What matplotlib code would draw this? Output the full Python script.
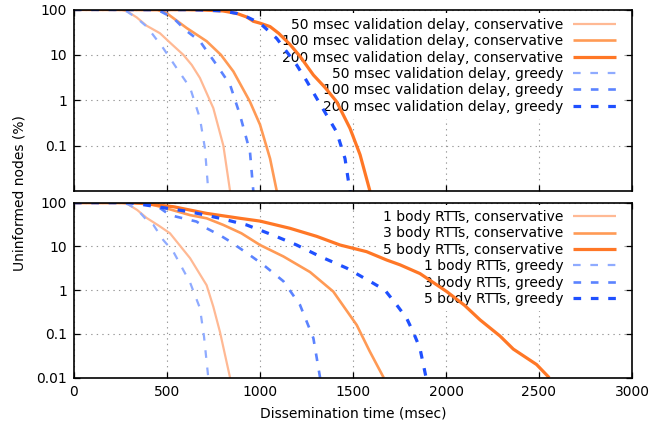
import matplotlib
matplotlib.use("Agg")
import matplotlib.pyplot as plt
from matplotlib.ticker import FixedLocator, NullLocator

plt.rcParams['font.family'] = ['DejaVu Sans']
plt.rcParams['font.size'] = 10
plt.rcParams['lines.scale_dashes'] = False

# ---------------- data: top panel (validation delay) ----------------
top_labels = ["50 msec validation delay, conservative",
              "100 msec validation delay, conservative",
              "200 msec validation delay, conservative",
              "50 msec validation delay, greedy",
              "100 msec validation delay, greedy",
              "200 msec validation delay, greedy"]

c50_t = [0, 250, 285, 337, 390, 462, 520, 588, 633, 677, 749, 803, 839]
c50_v = [100, 100, 92, 67, 44, 30, 18, 10, 6, 3.1, 0.67, 0.1, 0.01]
c100_t = [0, 450, 498, 606, 713, 790, 857, 946, 1000, 1054, 1090]
c100_v = [100, 98, 83, 39, 20, 10, 4.3, 0.93, 0.29, 0.052, 0.01]
c200_t = [0, 600, 700, 800, 875, 930, 964, 1000, 1054, 1100, 1161, 1215, 1287, 1350, 1412, 1484, 1538, 1591]
c200_v = [100, 99, 97, 93, 82, 68, 55, 50, 42, 30, 17, 9.3, 3.6, 1.9, 0.93, 0.24, 0.063, 0.01]
g50_t = [0, 250, 285, 337, 391, 480, 552, 624, 677, 704, 722]
g50_v = [100, 100, 90, 65, 42, 14, 5.1, 1.9, 0.4, 0.087, 0.01]
g100_t = [0, 450, 534, 600, 677, 767, 839, 892, 946, 964]
g100_v = [100, 98, 65, 35, 20, 6, 2.2, 0.48, 0.074, 0.01]
g200_t = [0, 600, 700, 800, 875, 928, 1000, 1090, 1197, 1250, 1305, 1412, 1457, 1475, 1485]
g200_v = [100, 99, 97, 93, 82, 69, 50, 23, 6, 2.7, 1.1, 0.2, 0.052, 0.017, 0.01]

# ---------------- data: bottom panel (body RTTs) ----------------
bot_labels = ["1 body RTTs, conservative",
              "3 body RTTs, conservative",
              "5 body RTTs, conservative",
              "1 body RTTs, greedy",
              "3 body RTTs, greedy",
              "5 body RTTs, greedy"]

b1c_t = [0, 250, 285, 340, 390, 455, 516, 624, 713, 749, 785, 839]
b1c_v = [100, 100, 95, 68, 45, 30, 20, 5.4, 1.3, 0.42, 0.11, 0.01]
b3c_t = [0, 300, 400, 498, 624, 713, 803, 900, 1000, 1126, 1269, 1394, 1520, 1590, 1665]
b3c_v = [100, 100, 95, 74, 52, 44, 31, 20, 10.8, 5.9, 2.6, 0.93, 0.16, 0.04, 0.01]
b5c_t = [0, 300, 355, 534, 713, 892, 1000, 1161, 1305, 1430, 1573, 1681, 1753, 1860, 2004, 2100, 2183, 2290, 2362, 2487, 2555]
b5c_v = [100, 100, 97, 81, 57, 44, 38, 26, 17, 10.8, 7.6, 4.9, 3.8, 2.4, 0.93, 0.45, 0.21, 0.09, 0.045, 0.02, 0.01]
b1g_t = [0, 250, 290, 340, 391, 427, 480, 534, 624, 677, 699, 722]
b1g_v = [100, 100, 92, 70, 40, 31, 14, 7.6, 1.5, 0.39, 0.087, 0.01]
b3g_t = [0, 300, 440, 516, 659, 713, 785, 839, 946, 1018, 1126, 1215, 1287, 1323]
b3g_v = [100, 100, 88, 52, 37, 26, 18, 13, 6.3, 3.8, 1.6, 0.46, 0.08, 0.01]
b5g_t = [0, 300, 445, 624, 785, 928, 1072, 1197, 1323, 1466, 1609, 1672, 1735, 1788, 1824, 1860, 1893]
b5g_v = [100, 100, 81, 62, 44, 31, 18, 10.8, 5.9, 3.2, 1.44, 1.0, 0.46, 0.23, 0.11, 0.047, 0.01]

x_ticks = [0, 500, 1000, 1500, 2000, 2500, 3000]
y_ticks_top = [0.1, 1, 10, 100]
y_ticks_bot = [0.01, 0.1, 1, 10, 100]
y_ticklabels_top = ["0.1", "1", "10", "100"]
y_ticklabels_bot = ["0.01", "0.1", "1", "10", "100"]

# ---------------- styles ----------------
colors = ["#ffb994", "#ff9a55", "#ff7726", "#8fabff", "#5b83ff", "#1f50ff"]
widths = [1.6, 1.9, 2.3, 1.6, 1.9, 2.3]
dash = (0, (5.5, 7.0))

fig = plt.figure(figsize=(6.65, 4.32), dpi=100)
ax1 = fig.add_axes([74/665, 1-191/432, (632-74)/665, (191-9.5)/432])
ax2 = fig.add_axes([74/665, 1-377.7/432, (632-74)/665, (377.7-202.7)/432])

top_series = [(c50_t, c50_v), (c100_t, c100_v), (c200_t, c200_v),
              (g50_t, g50_v), (g100_t, g100_v), (g200_t, g200_v)]
bot_series = [(b1c_t, b1c_v), (b3c_t, b3c_v), (b5c_t, b5c_v),
              (b1g_t, b1g_v), (b3g_t, b3g_v), (b5g_t, b5g_v)]

def draw(ax, series, labels, yticks, yticklabels, show_x, dy):
    for i, ((t, v), lab) in enumerate(zip(series, labels)):
        ls = '-' if i < 3 else dash
        ax.plot(t, v, color=colors[i], lw=widths[i], linestyle=ls, label=lab,
                solid_capstyle='butt', dash_capstyle='butt', zorder=2)
    ax.set_yscale('log')
    ax.set_xlim(0, 3000)
    ax.set_ylim(0.01, 100)
    ax.xaxis.set_major_locator(FixedLocator(x_ticks))
    ax.yaxis.set_major_locator(FixedLocator(yticks))
    ax.set_yticklabels(yticklabels)
    ax.yaxis.set_minor_locator(NullLocator())
    ax.xaxis.set_minor_locator(NullLocator())
    ax.set_axisbelow(True)
    ax.grid(True, which='major', color='#999999', linestyle=(0, (1, 3)), lw=0.8)
    ax.tick_params(direction='in', length=4.5, width=0.9, top=True, right=True,
                   labelsize=10, colors='black', pad=5)
    if not show_x:
        ax.tick_params(labelbottom=False)
    for s in ax.spines.values():
        s.set_linewidth(1.2)
        s.set_zorder(3)
    w = ax.get_position().width * 665
    h = ax.get_position().height * 432
    leg = ax.legend(loc='upper right', bbox_to_anchor=(1.0 - 11/w, 1.0 - dy/h),
                    markerfirst=False,
                    frameon=True, fancybox=False, framealpha=1.0, handlelength=3.1,
                    handletextpad=0.7, labelspacing=0.17, borderpad=0.35,
                    borderaxespad=0.0, fontsize=10)
    leg.get_frame().set_edgecolor('none')
    leg.get_frame().set_facecolor('white')
    leg.set_zorder(1.5)
    for t in leg.get_texts():
        t.set_ha('right')
    leg._legend_box.align = "right"

draw(ax1, top_series, top_labels, y_ticks_top, y_ticklabels_top, False, 3.5)
draw(ax2, bot_series, bot_labels, y_ticks_bot, y_ticklabels_bot, True, 2.5)

ax2.set_xlabel("Dissemination time (msec)", fontsize=10, labelpad=6)
fig.text(20/665, 1-193/432, "Uninformed nodes (%)", rotation=90, ha='center',
         va='center', fontsize=10)

fig.savefig("out.png", dpi=100)
